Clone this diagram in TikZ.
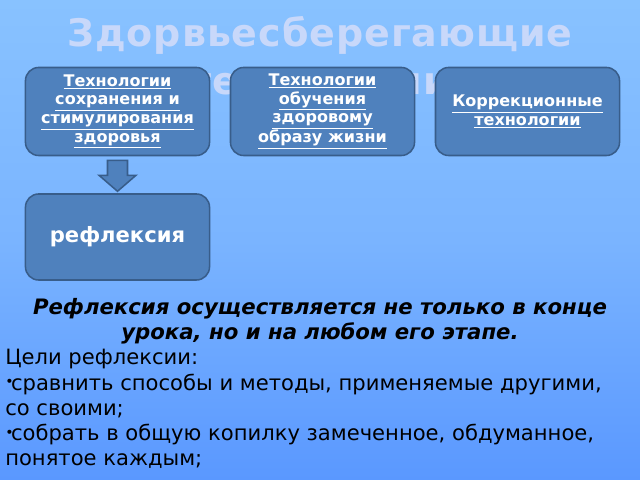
\documentclass[tikz,border=0pt]{standalone}
\usepackage{fontspec}
\setmainfont{DejaVu Sans}
\usetikzlibrary{calc}

\definecolor{bgtop}{RGB}{136,194,255}
\definecolor{bgmid}{RGB}{122,180,255}
\definecolor{bgbot}{RGB}{90,152,255}
\definecolor{boxfill}{RGB}{79,129,189}
\definecolor{boxline}{RGB}{56,93,138}
\definecolor{titlecol}{RGB}{200,216,250}

% small raised bullet of the list
\newcommand{\gbullet}{\raisebox{0.3ex}{\fontsize{10}{10}\selectfont•}\kern-0.12em}

\tikzset{
	techbox/.style={draw=boxline, fill=boxfill, line width=1.1pt, rounded corners=0.33cm,
		minimum width=4.6cm, minimum height=2.2cm, inner sep=0pt, align=center,
		text=white, font=\bfseries\fontsize{11.4}{13.2}\selectfont},
	titletext/.style={anchor=base, text=titlecol, font=\bfseries\fontsize{27}{30}\selectfont\addfontfeatures{LetterSpace=2.5}},
	blockarrow/.style={draw=boxline, fill=boxfill, line width=1.1pt},
}

\begin{document}
\begin{tikzpicture}[x=0.025cm, y=0.025cm]
		
		% background
		\shade [top color=bgtop, bottom color=bgbot, middle color=bgmid] (0,0) rectangle (640,480);
		\useasboundingbox (0,0) rectangle (640,480);
		
		% title (partly hidden by the boxes)
		\node (title1) [titletext] at (320, 433) {Здорвьесберегающие};
		\node (title2) [titletext] at (320, 385) {технологии};
		
		% box 1
		\node (box1) [techbox] at (117.5, 368.5) {\underline{Технологии}\\\underline{сохранения и}\\\underline{стимулирования}\\\underline{здоровья}};
		
		% box 2
		\node (box2) [techbox] at (322.5, 368.5) {\underline{Технологии}\\\underline{обучения}\\\underline{здоровому}\\\underline{образу жизни}};
		
		% box 3
		\node (box3) [techbox] at (527.5, 368.5) {\underline{Коррекционные}\\\underline{технологии}};
		
		% reflection box
		\node (refl) [techbox, minimum height=2.15cm, font=\bfseries\fontsize{15}{18}\selectfont] at (117.5, 243) {рефлексия};
		
		% block arrow from box 1 down to the reflection box
		\draw [blockarrow] ($(box1.south)+(-10,-4)$) -- ++(20,0) -- ++(0,-15) -- ++(8.5,0)
			-- ++(-18.5,-16) -- ++(-18.5,16) -- ++(8.5,0) -- cycle;
		
		% note (base = last line)
		\node (note) [anchor=base, align=center, font=\bfseries\itshape\fontsize{15.1}{17.8}\selectfont] at (320, 140)
			{Рефлексия осуществляется не только в конце\\урока, но и на любом его этапе.};
		
		% goals (base = last line)
		\node (goals) [anchor=base west, align=left, inner sep=0pt, font=\fontsize{15}{18}\selectfont] at (5, 14)
			{Цели рефлексии:\\\gbullet сравнить способы и методы, применяемые другими,\\со своими;\\\gbullet собрать в общую копилку замеченное, обдуманное,\\понятое каждым;};
		
\end{tikzpicture}
\end{document}
